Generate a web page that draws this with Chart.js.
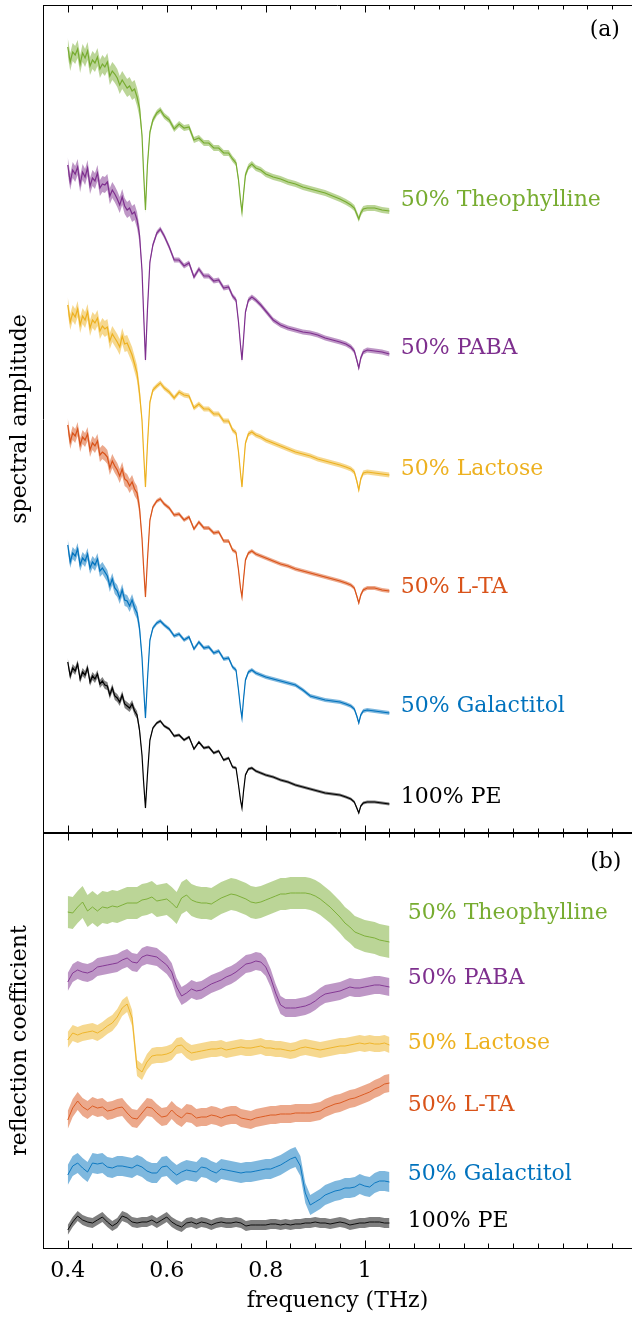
<!DOCTYPE html>
<html>
<head>
<meta charset="utf-8">
<script src="https://cdn.jsdelivr.net/npm/chart.js@4.4.1/dist/chart.umd.min.js"></script>
<style>
html,body{margin:0;padding:0;background:#fff;}
#wrap{position:relative;width:632px;height:1318px;overflow:hidden;}
.box{position:absolute;left:0;width:632px;}
#boxA{top:0;height:840px;}
#boxB{top:826px;height:492px;}
</style>
</head>
<body>
<div id="wrap">
  <div class="box" id="boxA"><canvas id="chartA"></canvas></div>
  <div class="box" id="boxB"><canvas id="chartB"></canvas></div>
</div>
<script>
// ---- data: panel (a), spectral amplitude (offset traces, a.u.) ----
const FREQ_A = [
  0.400,0.405,0.410,0.415,0.420,0.425,0.430,0.435,0.440,0.445,0.450,0.455,0.460,0.465,0.470,
  0.475,0.480,0.485,0.490,0.495,0.500,0.505,0.510,0.515,0.520,0.525,0.530,0.535,0.540,
  0.545,0.550,0.553,0.557,0.561,0.566,0.572,0.580,0.587,0.595,
  0.605,0.615,0.625,0.635,0.645,0.655,0.665,0.675,0.685,0.695,0.705,0.715,0.725,0.733,0.740,
  0.745,0.749,0.752,0.755,0.759,0.765,0.772,0.780,0.790,0.800,
  0.815,0.830,0.845,0.860,0.875,0.890,0.905,0.920,0.935,0.950,0.962,0.972,0.979,
  0.984,0.988,0.992,0.997,1.005,1.020,1.035,1.050
];
const THEO_A = [
  7.86,7.71,7.81,7.78,7.84,7.69,7.80,7.75,7.82,7.67,7.73,7.70,7.76,7.64,7.69,
  7.66,7.71,7.57,7.62,7.59,7.55,7.48,7.53,7.49,7.45,7.47,7.42,7.44,7.36,
  7.25,6.98,6.63,6.23,6.68,7.01,7.13,7.20,7.23,7.17,
  7.13,7.04,7.09,7.05,7.06,6.93,6.95,6.90,6.90,6.85,6.85,6.80,6.80,6.74,6.70,
  6.53,6.33,6.21,6.38,6.58,6.66,6.69,6.65,6.63,6.59,
  6.56,6.54,6.51,6.49,6.46,6.44,6.42,6.40,6.37,6.34,6.31,6.28,6.25,
  6.19,6.14,6.20,6.24,6.25,6.25,6.23,6.22
];
const PABA_A = [
  6.68,6.51,6.63,6.59,6.66,6.49,6.61,6.56,6.65,6.47,6.55,6.52,6.60,6.45,6.49,
  6.48,6.51,6.37,6.43,6.39,6.34,6.28,6.36,6.27,6.23,6.25,6.19,6.21,6.13,
  5.98,5.63,5.23,4.73,5.23,5.71,5.88,6.00,6.04,5.97,
  5.86,5.73,5.73,5.67,5.70,5.56,5.64,5.57,5.57,5.52,5.53,5.45,5.46,5.37,5.33,
  5.11,4.88,4.73,4.93,5.21,5.33,5.36,5.33,5.28,5.22,
  5.13,5.08,5.05,5.03,5.01,5.00,4.98,4.95,4.93,4.91,4.89,4.86,4.82,
  4.73,4.65,4.75,4.81,4.83,4.82,4.81,4.79
];
const LACT_A = [
  5.28,5.11,5.20,5.16,5.24,5.08,5.17,5.13,5.21,5.05,5.13,5.10,5.15,5.02,5.07,
  5.04,5.06,4.92,4.99,4.95,4.91,4.86,4.97,4.89,4.90,4.84,4.78,4.69,4.60,
  4.40,4.13,3.83,3.46,3.88,4.31,4.43,4.47,4.50,4.45,
  4.41,4.35,4.41,4.38,4.37,4.25,4.29,4.24,4.24,4.19,4.19,4.12,4.12,4.03,4.00,
  3.81,3.60,3.46,3.66,3.90,3.99,4.01,3.98,3.96,3.93,
  3.90,3.87,3.84,3.81,3.79,3.77,3.74,3.72,3.70,3.68,3.66,3.64,3.61,
  3.52,3.43,3.54,3.60,3.61,3.60,3.59,3.58
];
const LTA_A = [
  4.08,3.91,4.00,3.97,4.04,3.88,3.96,3.93,3.99,3.83,3.90,3.87,3.92,3.78,3.81,
  3.79,3.76,3.65,3.72,3.67,3.63,3.57,3.64,3.54,3.52,3.47,3.51,3.44,3.40,
  3.25,2.95,2.68,2.36,2.73,3.13,3.26,3.32,3.34,3.29,
  3.25,3.18,3.19,3.13,3.16,3.04,3.11,3.05,3.05,3.00,3.01,2.92,2.92,2.83,2.81,
  2.63,2.45,2.36,2.53,2.73,2.80,2.82,2.79,2.77,2.75,
  2.72,2.69,2.67,2.64,2.62,2.60,2.58,2.56,2.54,2.52,2.50,2.48,2.45,
  2.37,2.30,2.38,2.43,2.45,2.45,2.43,2.42
];
const GALA_A = [
  2.88,2.71,2.80,2.77,2.84,2.68,2.75,2.72,2.79,2.65,2.71,2.68,2.74,2.62,2.65,
  2.61,2.57,2.47,2.54,2.45,2.42,2.35,2.43,2.33,2.32,2.27,2.33,2.25,2.20,
  2.05,1.76,1.48,1.15,1.53,1.93,2.05,2.10,2.12,2.08,
  2.04,1.97,1.99,1.93,1.96,1.84,1.91,1.85,1.86,1.80,1.82,1.74,1.75,1.66,1.63,
  1.43,1.25,1.15,1.33,1.53,1.61,1.63,1.60,1.58,1.56,
  1.54,1.52,1.50,1.48,1.43,1.37,1.35,1.33,1.32,1.31,1.29,1.27,1.24,
  1.17,1.10,1.18,1.22,1.23,1.22,1.21,1.20
];
const PE_A = [
  1.71,1.57,1.65,1.62,1.69,1.54,1.61,1.58,1.65,1.51,1.57,1.54,1.59,1.49,1.52,
  1.48,1.47,1.38,1.45,1.37,1.35,1.31,1.38,1.29,1.27,1.25,1.29,1.22,1.18,
  1.03,0.78,0.53,0.25,0.58,0.93,1.05,1.10,1.12,1.07,
  1.04,0.97,0.98,0.93,0.96,0.84,0.91,0.85,0.86,0.80,0.82,0.73,0.75,0.66,0.65,
  0.48,0.33,0.25,0.41,0.58,0.64,0.65,0.62,0.60,0.58,
  0.56,0.53,0.51,0.48,0.46,0.44,0.42,0.40,0.39,0.38,0.36,0.34,0.31,
  0.25,0.20,0.27,0.30,0.31,0.31,0.30,0.29
];
// std. dev. below / above the first water line
const SD_A = [[0.09,0.03],[0.08,0.025],[0.08,0.025],[0.07,0.02],[0.06,0.02],[0.04,0.015]];

// ---- data: panel (b), reflection coefficient (offset traces) ----
const FREQ_B = [
  0.40,0.41,0.42,0.43,0.44,0.45,0.46,0.47,0.48,0.49,
  0.50,0.51,0.52,0.53,0.54,0.55,0.56,0.57,0.58,0.59,
  0.60,0.61,0.62,0.63,0.64,0.65,0.66,0.67,0.68,0.69,
  0.70,0.71,0.72,0.73,0.74,0.75,0.76,0.77,0.78,0.79,
  0.80,0.81,0.82,0.83,0.84,0.85,0.86,0.87,0.88,0.89,
  0.90,0.91,0.92,0.93,0.94,0.95,0.96,0.97,0.98,0.99,
  1.00,1.01,1.02,1.03,1.04,1.05
];
const THEO_B = [
  3.36,3.35,3.41,3.46,3.37,3.41,3.37,3.41,3.40,3.42,
  3.41,3.43,3.45,3.45,3.45,3.48,3.49,3.51,3.47,3.48,
  3.49,3.45,3.40,3.50,3.53,3.48,3.46,3.45,3.45,3.44,
  3.47,3.50,3.52,3.54,3.53,3.51,3.49,3.46,3.45,3.46,
  3.48,3.50,3.52,3.54,3.54,3.55,3.55,3.55,3.55,3.54,
  3.52,3.49,3.45,3.41,3.36,3.31,3.25,3.21,3.16,3.14,
  3.12,3.11,3.10,3.08,3.07,3.06
];
const PABA_B = [
  2.66,2.75,2.78,2.76,2.75,2.77,2.81,2.82,2.83,2.84,
  2.85,2.88,2.90,2.86,2.85,2.91,2.93,2.92,2.91,2.87,
  2.83,2.76,2.61,2.52,2.55,2.59,2.57,2.58,2.61,2.64,
  2.66,2.68,2.71,2.73,2.76,2.80,2.84,2.85,2.87,2.86,
  2.81,2.70,2.55,2.43,2.40,2.40,2.40,2.41,2.42,2.44,
  2.47,2.51,2.54,2.55,2.56,2.57,2.59,2.61,2.60,2.60,
  2.61,2.62,2.63,2.63,2.62,2.61
];
const LACT_B = [
  2.08,2.15,2.13,2.15,2.16,2.17,2.15,2.18,2.22,2.25,
  2.31,2.40,2.44,2.30,1.80,1.76,1.86,1.92,1.93,1.93,
  1.94,1.96,2.02,2.03,1.98,1.95,1.96,1.97,1.98,1.99,
  1.99,2.00,1.98,1.99,2.00,2.01,2.00,2.00,2.01,2.02,
  2.00,2.00,1.99,1.99,1.98,1.97,1.98,2.00,2.01,2.00,
  1.99,1.98,1.99,2.00,2.01,2.02,2.02,2.03,2.04,2.05,
  2.04,2.05,2.04,2.04,2.05,2.03
];
const LTA_B = [
  1.28,1.40,1.47,1.41,1.38,1.42,1.40,1.41,1.37,1.38,
  1.40,1.41,1.35,1.30,1.29,1.35,1.41,1.40,1.35,1.31,
  1.32,1.38,1.33,1.30,1.35,1.34,1.30,1.31,1.31,1.33,
  1.32,1.30,1.32,1.33,1.33,1.30,1.29,1.28,1.30,1.31,
  1.32,1.33,1.33,1.34,1.34,1.34,1.35,1.35,1.35,1.35,
  1.36,1.37,1.40,1.42,1.44,1.45,1.47,1.49,1.50,1.52,
  1.54,1.56,1.59,1.61,1.64,1.65
];
const GALA_B = [
  0.73,0.82,0.85,0.80,0.76,0.85,0.84,0.85,0.81,0.80,
  0.82,0.82,0.81,0.80,0.83,0.81,0.77,0.75,0.75,0.81,
  0.82,0.77,0.73,0.76,0.78,0.77,0.76,0.81,0.80,0.77,
  0.75,0.79,0.78,0.77,0.76,0.75,0.76,0.76,0.77,0.78,
  0.79,0.79,0.81,0.83,0.86,0.89,0.91,0.82,0.55,0.43,
  0.46,0.49,0.53,0.55,0.57,0.58,0.60,0.60,0.61,0.64,
  0.62,0.61,0.65,0.67,0.67,0.66
];
const PE_B = [
  0.18,0.26,0.32,0.28,0.26,0.25,0.28,0.31,0.26,0.22,
  0.25,0.32,0.30,0.26,0.25,0.26,0.26,0.28,0.25,0.28,
  0.31,0.26,0.23,0.21,0.25,0.26,0.24,0.26,0.25,0.23,
  0.25,0.26,0.25,0.25,0.26,0.25,0.22,0.23,0.23,0.23,
  0.23,0.24,0.24,0.23,0.24,0.23,0.24,0.24,0.25,0.25,
  0.26,0.25,0.25,0.24,0.25,0.26,0.25,0.23,0.24,0.25,
  0.25,0.26,0.26,0.26,0.25,0.25
];
const SD_B = [0.16, 0.09, 0.08, 0.09, 0.10, 0.05];

const NAMES = ['50% Theophylline','50% PABA','50% Lactose','50% L-TA','50% Galactitol','100% PE'];
const MAJOR_TICKS = [0.4, 0.6, 0.8, 1.0];
const MINOR_TICKS = [0.45,0.5,0.55,0.65,0.7,0.75,0.85,0.9,0.95,1.05,1.1,1.15,1.2,1.25,1.3,1.35,1.4,1.45,1.5];

// ---- look ----
const COLORS = ['#77AC30','#7E2F8E','#EDB120','#D95319','#0072BD','#000000'];
const BANDS  = ['rgba(119,172,48,0.5)','rgba(126,47,142,0.5)','rgba(237,177,32,0.5)',
                'rgba(217,83,25,0.5)','rgba(0,114,189,0.5)','rgba(0,0,0,0.5)'];
const FONT = "'DejaVu Serif', serif";
const FSIZE = 22;
const X_MIN = 0.35, X_MAX = 1.54;

// label anchors in data units
const LABEL_A = {x: 1.073, y: [6.33, 4.85, 3.64, 2.46, 1.27, 0.36], tag: {x: 1.485, y: 8.03, text: '(a)'}};
const LABEL_B = {x: 1.087, y: [3.35, 2.70, 2.05, 1.43, 0.74, 0.27], tag: {x: 1.487, y: 3.86, text: '(b)'}};

function buildSets(xs, series, sdAt, lw){
  const lines = [], bands = [];
  series.forEach((ys, k) => {
    lines.push({
      data: xs.map((x,i)=>({x, y: ys[i]})),
      borderColor: COLORS[k], borderWidth: lw, pointRadius: 0, fill: false, tension: 0, order: 0
    });
    bands.push({
      data: xs.map((x,i)=>({x, y: ys[i] + sdAt(k, x)})),
      borderWidth: 0, borderColor: 'transparent', backgroundColor: BANDS[k],
      pointRadius: 0, fill: '+1', tension: 0, order: 1
    });
    bands.push({
      data: xs.map((x,i)=>({x, y: ys[i] - sdAt(k, x)})),
      borderWidth: 0, borderColor: 'transparent', pointRadius: 0, fill: false, tension: 0, order: 1
    });
  });
  return lines.concat(bands);
}

// frame lines, inward ticks, trace names and panel tag
const framePlugin = {
  id: 'frame',
  afterDraw(chart, args, opts){
    const {ctx, chartArea: a} = chart;
    const xs = chart.scales.x, ys = chart.scales.y;
    ctx.save();
    ctx.strokeStyle = '#000';
    ctx.lineWidth = 1;
    ctx.beginPath();
    ctx.moveTo(a.left, Math.round(a.top) + 0.5); ctx.lineTo(a.right, Math.round(a.top) + 0.5);
    if(opts.bottomLine){
      ctx.moveTo(a.left, Math.round(a.bottom) - 0.5); ctx.lineTo(a.right, Math.round(a.bottom) - 0.5);
    }
    const tick = (v, len) => {
      const px = Math.round(xs.getPixelForValue(v)) + 0.5;
      ctx.moveTo(px, a.top); ctx.lineTo(px, a.top + len);
      ctx.moveTo(px, a.bottom); ctx.lineTo(px, a.bottom - len);
    };
    MAJOR_TICKS.forEach(v => tick(v, 7.5));
    MINOR_TICKS.forEach(v => tick(v, 4.5));
    ctx.stroke();

    ctx.font = opts.font;
    ctx.textBaseline = 'middle';
    ctx.textAlign = 'left';
    NAMES.forEach((n, k) => {
      ctx.fillStyle = COLORS[k];
      ctx.fillText(n, xs.getPixelForValue(opts.labels.x), ys.getPixelForValue(opts.labels.y[k]));
    });
    ctx.fillStyle = '#000';
    ctx.textAlign = 'center';
    const t = opts.labels.tag;
    ctx.fillText(t.text, xs.getPixelForValue(t.x), ys.getPixelForValue(t.y));
    ctx.restore();
  }
};

function yAxis(title, max){
  return {
    min: 0, max: max,
    ticks: {display: false},
    grid: {display: false},
    border: {display: true, color: '#000', width: 1},
    title: {display: true, text: title, color: '#000', font: {family: FONT, size: FSIZE}, padding: {top: 7, bottom: 0}},
    afterFit(s){ s.width = 43; }
  };
}

Chart.defaults.font.family = FONT;

new Chart(document.getElementById('chartA'), {
  type: 'line',
  data: {datasets: buildSets(FREQ_A, [THEO_A, PABA_A, LACT_A, LTA_A, GALA_A, PE_A],
                             (k, x) => x < 0.55 ? SD_A[k][0] : SD_A[k][1], 1.2)},
  options: {
    responsive: true, maintainAspectRatio: false, animation: false, devicePixelRatio: 1,
    layout: {padding: {left: 0, right: 0, top: 5, bottom: 7}},
    plugins: {legend: {display: false}, tooltip: {enabled: false},
      frame: {bottomLine: true, labels: LABEL_A, font: FSIZE + "px " + FONT}},
    scales: {
      x: {type: 'linear', min: X_MIN, max: X_MAX, display: false},
      y: yAxis('spectral amplitude', 8.28)
    }
  },
  plugins: [framePlugin]
});

new Chart(document.getElementById('chartB'), {
  type: 'line',
  data: {datasets: buildSets(FREQ_B, [THEO_B, PABA_B, LACT_B, LTA_B, GALA_B, PE_B],
                             (k) => SD_B[k], 0.9)},
  options: {
    responsive: true, maintainAspectRatio: false, animation: false, devicePixelRatio: 1,
    layout: {padding: {left: 0, right: 0, top: 7, bottom: 0}},
    plugins: {legend: {display: false}, tooltip: {enabled: false},
      frame: {bottomLine: false, labels: LABEL_B, font: FSIZE + "px " + FONT}},
    scales: {
      x: {
        type: 'linear', min: X_MIN, max: X_MAX,
        grid: {display: true, drawOnChartArea: false, drawTicks: false},
        border: {display: true, color: '#000', width: 1},
        ticks: {color: '#000', font: {family: FONT, size: FSIZE}, padding: 10,
                callback: v => String(+v.toFixed(1))},
        afterBuildTicks(s){ s.ticks = MAJOR_TICKS.map(v => ({value: v})); },
        title: {display: true, text: 'frequency (THz)', color: '#000',
                font: {family: FONT, size: FSIZE}, padding: {top: 0, bottom: 4}},
        afterFit(s){ s.height = 70; }
      },
      y: yAxis('reflection coefficient', 4.15)
    }
  },
  plugins: [framePlugin]
});
</script>
</body>
</html>
